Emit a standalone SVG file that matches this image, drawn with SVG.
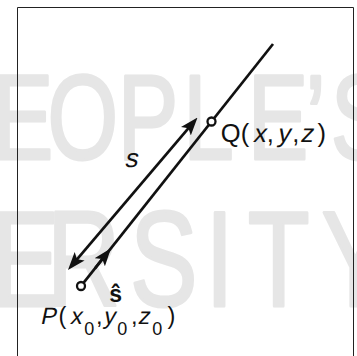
<svg xmlns="http://www.w3.org/2000/svg" width="357" height="356" viewBox="0 0 357 356">
<style>
.wm{font-family:"Liberation Sans",Arial,sans-serif;fill:#e6e6e6;stroke:#e6e6e6;stroke-width:3;stroke-linejoin:round}
.lbl{font-family:"Liberation Sans",Arial,sans-serif;fill:#111}
.q{font-size:25.5px}
.p{font-size:23.5px}
.sub{font-size:18px}
.ln{stroke:#111;stroke-width:2.7;fill:none}
.pt{fill:#fff;stroke:#111;stroke-width:2.3}
</style>
<defs>
<marker id="arr" viewBox="0 0 18 14" markerWidth="18" markerHeight="14" refX="9" refY="7" orient="auto-start-reverse" markerUnits="userSpaceOnUse">
<path d="M0,0.5 L18,7 L0,13.5 L4,7 Z" fill="#111"/>
</marker>
</defs>
<rect width="357" height="356" fill="#fff"/>
<g id="watermark" transform="scale(0.75,1)">
<text class="wm" font-size="121" y="159" x="-9.6 63.5 157 244.5 330.4 407.5 441">EOPLE’S</text>
<text class="wm" font-size="135" y="306" x="-10.7 62.7 173.3 274 330.3 428.8">ERSITY</text>
</g>
<path id="frame" d="M17.5,360 V7.5 H353.5 V360" fill="none" stroke="#222" stroke-width="1"/>
<g id="connectors">
<path id="line" class="ln" d="M83.5,282.9 L273,44"/>
<path id="s-arrow" class="ln" d="M73.8,263.1 L191.7,124.4" marker-start="url(#arr)" marker-end="url(#arr)"/>
<path id="shat-arrow" class="ln" d="M95,268.3 L105.4,255.2" marker-end="url(#arr)"/>
</g>
<g id="P">
<circle class="pt" cx="81" cy="286" r="4"/>
<text class="lbl p" transform="translate(40,324.3) skewX(-12)">P</text>
<text class="lbl p" x="58.4" y="324.3">(</text>
<text class="lbl p" transform="translate(69.8,324.3) skewX(-12)">x</text>
<text class="lbl sub" x="84.2" y="335">0</text>
<text class="lbl p" x="96" y="324.3">,</text>
<text class="lbl p" transform="translate(103,324.3) skewX(-12)">y</text>
<text class="lbl sub" x="117.2" y="335">0</text>
<text class="lbl p" x="131" y="324.3">,</text>
<text class="lbl p" transform="translate(137.5,324.3) skewX(-12)">z</text>
<text class="lbl sub" x="152.2" y="335">0</text>
<text class="lbl p" x="167.5" y="324.3">)</text>
</g>
<g id="Q">
<circle class="pt" cx="211.5" cy="121.5" r="4"/>
<text class="lbl q" x="220.8" y="142">Q</text>
<text class="lbl q" x="240.7" y="142">(</text>
<text class="lbl q" transform="translate(252.8,142) skewX(-12)">x</text>
<text class="lbl q" x="266.8" y="142">,</text>
<text class="lbl q" transform="translate(277,142) skewX(-12)">y</text>
<text class="lbl q" x="292.3" y="142">,</text>
<text class="lbl q" transform="translate(300,142) skewX(-12)">z</text>
<text class="lbl q" x="317.4" y="142">)</text>
</g>
<g id="s-label">
<text class="lbl" font-size="26" transform="translate(124.2,166.5) skewX(-12)">s</text>
</g>
<g id="shat-label">
<text class="lbl" font-size="23" font-weight="bold" x="109.3" y="301.5">ŝ</text>
</g>
</svg>
